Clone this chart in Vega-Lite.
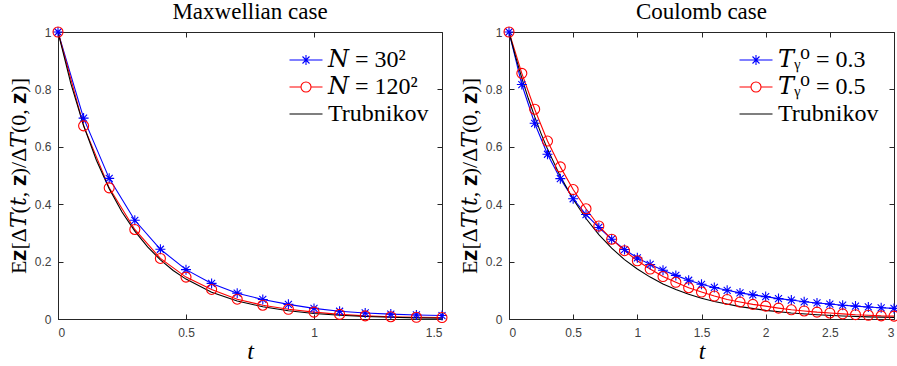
{
  "$schema": "https://vega.github.io/schema/vega-lite/v6.json",
  "padding": {"left": 6, "top": 0, "right": 0, "bottom": 0},
  "background": "white",
  "config": {
    "view": {"stroke": "#262626", "strokeWidth": 1},
    "axis": {
      "labelFont": "Liberation Sans", "labelFontSize": 12, "labelColor": "#404040",
      "domainColor": "#262626", "tickColor": "#262626", "tickSize": -5, "grid": false,
      "titleFont": "Liberation Serif, DejaVu Serif", "titleFontSize": 22, "titleColor": "#000000", "titleFontWeight": "normal"
    },
    "axisX": {"labelPadding": 13},
    "axisY": {"labelPadding": 12},
    "title": {"font": "Liberation Serif", "fontSize": 23, "fontWeight": "normal", "color": "#000000", "offset": 1},
    "legend": {"labelFont": "Liberation Serif, DejaVu Serif", "labelFontSize": 24, "labelColor": "#000000", "labelLimit": 300}
  },
  "resolve": {"scale": {"color": "independent", "shape": "independent", "strokeWidth": "independent"}, "legend": {"color": "independent"}},
  "datasets": {
    "left": [
      {"series": "N30", "t": 0, "v": 1}, {"series": "N30", "t": 0.1, "v": 0.70}, {"series": "N30", "t": 0.2, "v": 0.49}, {"series": "N30", "t": 0.3, "v": 0.344},
      {"series": "N30", "t": 0.4, "v": 0.243}, {"series": "N30", "t": 0.5, "v": 0.172}, {"series": "N30", "t": 0.6, "v": 0.124}, {"series": "N30", "t": 0.7, "v": 0.090},
      {"series": "N30", "t": 0.8, "v": 0.068}, {"series": "N30", "t": 0.9, "v": 0.051}, {"series": "N30", "t": 1.0, "v": 0.037}, {"series": "N30", "t": 1.1, "v": 0.027},
      {"series": "N30", "t": 1.2, "v": 0.021}, {"series": "N30", "t": 1.3, "v": 0.017}, {"series": "N30", "t": 1.4, "v": 0.014}, {"series": "N30", "t": 1.5, "v": 0.012},
      {"series": "N120", "t": 0, "v": 1}, {"series": "N120", "t": 0.1, "v": 0.673}, {"series": "N120", "t": 0.2, "v": 0.457}, {"series": "N120", "t": 0.3, "v": 0.312},
      {"series": "N120", "t": 0.4, "v": 0.211}, {"series": "N120", "t": 0.5, "v": 0.146}, {"series": "N120", "t": 0.6, "v": 0.103}, {"series": "N120", "t": 0.7, "v": 0.069},
      {"series": "N120", "t": 0.8, "v": 0.048}, {"series": "N120", "t": 0.9, "v": 0.034}, {"series": "N120", "t": 1.0, "v": 0.024}, {"series": "N120", "t": 1.1, "v": 0.016},
      {"series": "N120", "t": 1.2, "v": 0.011}, {"series": "N120", "t": 1.3, "v": 0.008}, {"series": "N120", "t": 1.4, "v": 0.006}, {"series": "N120", "t": 1.5, "v": 0.005},
      {"series": "Trubnikov", "t": 0, "v": 1}, {"series": "Trubnikov", "t": 0.05, "v": 0.821}, {"series": "Trubnikov", "t": 0.1, "v": 0.674}, {"series": "Trubnikov", "t": 0.15, "v": 0.553},
      {"series": "Trubnikov", "t": 0.2, "v": 0.454}, {"series": "Trubnikov", "t": 0.25, "v": 0.373}, {"series": "Trubnikov", "t": 0.3, "v": 0.306}, {"series": "Trubnikov", "t": 0.35, "v": 0.251},
      {"series": "Trubnikov", "t": 0.4, "v": 0.206}, {"series": "Trubnikov", "t": 0.45, "v": 0.169}, {"series": "Trubnikov", "t": 0.5, "v": 0.139}, {"series": "Trubnikov", "t": 0.6, "v": 0.0935},
      {"series": "Trubnikov", "t": 0.7, "v": 0.063}, {"series": "Trubnikov", "t": 0.8, "v": 0.0424}, {"series": "Trubnikov", "t": 0.9, "v": 0.0286}, {"series": "Trubnikov", "t": 1.0, "v": 0.0193},
      {"series": "Trubnikov", "t": 1.1, "v": 0.013}, {"series": "Trubnikov", "t": 1.2, "v": 0.0087}, {"series": "Trubnikov", "t": 1.3, "v": 0.0059}, {"series": "Trubnikov", "t": 1.4, "v": 0.004},
      {"series": "Trubnikov", "t": 1.5, "v": 0.0027}
    ],
    "right": [
      {"series": "T03", "t": 0, "v": 1}, {"series": "T03", "t": 0.1, "v": 0.817}, {"series": "T03", "t": 0.2, "v": 0.682}, {"series": "T03", "t": 0.3, "v": 0.574},
      {"series": "T03", "t": 0.4, "v": 0.489}, {"series": "T03", "t": 0.5, "v": 0.419}, {"series": "T03", "t": 0.6, "v": 0.364}, {"series": "T03", "t": 0.7, "v": 0.319},
      {"series": "T03", "t": 0.8, "v": 0.278}, {"series": "T03", "t": 0.9, "v": 0.242}, {"series": "T03", "t": 1.0, "v": 0.213}, {"series": "T03", "t": 1.1, "v": 0.190},
      {"series": "T03", "t": 1.2, "v": 0.170}, {"series": "T03", "t": 1.3, "v": 0.152}, {"series": "T03", "t": 1.4, "v": 0.135}, {"series": "T03", "t": 1.5, "v": 0.121},
      {"series": "T03", "t": 1.6, "v": 0.110}, {"series": "T03", "t": 1.7, "v": 0.100}, {"series": "T03", "t": 1.8, "v": 0.091}, {"series": "T03", "t": 1.9, "v": 0.084},
      {"series": "T03", "t": 2.0, "v": 0.078}, {"series": "T03", "t": 2.1, "v": 0.071}, {"series": "T03", "t": 2.2, "v": 0.066}, {"series": "T03", "t": 2.3, "v": 0.060},
      {"series": "T03", "t": 2.4, "v": 0.056}, {"series": "T03", "t": 2.5, "v": 0.052}, {"series": "T03", "t": 2.6, "v": 0.048}, {"series": "T03", "t": 2.7, "v": 0.045},
      {"series": "T03", "t": 2.8, "v": 0.042}, {"series": "T03", "t": 2.9, "v": 0.039}, {"series": "T03", "t": 3.0, "v": 0.037},
      {"series": "T05", "t": 0, "v": 1}, {"series": "T05", "t": 0.1, "v": 0.856}, {"series": "T05", "t": 0.2, "v": 0.731}, {"series": "T05", "t": 0.3, "v": 0.62},
      {"series": "T05", "t": 0.4, "v": 0.53}, {"series": "T05", "t": 0.5, "v": 0.451}, {"series": "T05", "t": 0.6, "v": 0.384}, {"series": "T05", "t": 0.7, "v": 0.324},
      {"series": "T05", "t": 0.8, "v": 0.278}, {"series": "T05", "t": 0.9, "v": 0.238}, {"series": "T05", "t": 1.0, "v": 0.203}, {"series": "T05", "t": 1.1, "v": 0.174},
      {"series": "T05", "t": 1.2, "v": 0.148}, {"series": "T05", "t": 1.3, "v": 0.128}, {"series": "T05", "t": 1.4, "v": 0.109}, {"series": "T05", "t": 1.5, "v": 0.094},
      {"series": "T05", "t": 1.6, "v": 0.080}, {"series": "T05", "t": 1.7, "v": 0.068}, {"series": "T05", "t": 1.8, "v": 0.059}, {"series": "T05", "t": 1.9, "v": 0.051},
      {"series": "T05", "t": 2.0, "v": 0.045}, {"series": "T05", "t": 2.1, "v": 0.038}, {"series": "T05", "t": 2.2, "v": 0.032}, {"series": "T05", "t": 2.3, "v": 0.028},
      {"series": "T05", "t": 2.4, "v": 0.024}, {"series": "T05", "t": 2.5, "v": 0.021}, {"series": "T05", "t": 2.6, "v": 0.018}, {"series": "T05", "t": 2.7, "v": 0.015},
      {"series": "T05", "t": 2.8, "v": 0.013}, {"series": "T05", "t": 2.9, "v": 0.011}, {"series": "T05", "t": 3.0, "v": 0.010},
      {"series": "Trubnikov", "t": 0, "v": 1}, {"series": "Trubnikov", "t": 0.05, "v": 0.916}, {"series": "Trubnikov", "t": 0.1, "v": 0.839}, {"series": "Trubnikov", "t": 0.15, "v": 0.769},
      {"series": "Trubnikov", "t": 0.2, "v": 0.705}, {"series": "Trubnikov", "t": 0.25, "v": 0.646}, {"series": "Trubnikov", "t": 0.3, "v": 0.592}, {"series": "Trubnikov", "t": 0.4, "v": 0.497},
      {"series": "Trubnikov", "t": 0.5, "v": 0.417}, {"series": "Trubnikov", "t": 0.6, "v": 0.350}, {"series": "Trubnikov", "t": 0.7, "v": 0.294}, {"series": "Trubnikov", "t": 0.8, "v": 0.247},
      {"series": "Trubnikov", "t": 0.9, "v": 0.207}, {"series": "Trubnikov", "t": 1.0, "v": 0.174}, {"series": "Trubnikov", "t": 1.1, "v": 0.146}, {"series": "Trubnikov", "t": 1.2, "v": 0.122},
      {"series": "Trubnikov", "t": 1.3, "v": 0.103}, {"series": "Trubnikov", "t": 1.4, "v": 0.086}, {"series": "Trubnikov", "t": 1.5, "v": 0.072}, {"series": "Trubnikov", "t": 1.6, "v": 0.061},
      {"series": "Trubnikov", "t": 1.8, "v": 0.043}, {"series": "Trubnikov", "t": 2.0, "v": 0.030}, {"series": "Trubnikov", "t": 2.2, "v": 0.021}, {"series": "Trubnikov", "t": 2.4, "v": 0.015},
      {"series": "Trubnikov", "t": 2.6, "v": 0.0106}, {"series": "Trubnikov", "t": 2.8, "v": 0.0074}, {"series": "Trubnikov", "t": 3.0, "v": 0.0052}
    ]
  },
  "bounds": "flush",
  "spacing": 67,
  "hconcat": [
    {
      "title": "Maxwellian case",
      "width": 384, "height": 287,
      "data": {"name": "left"},
      "resolve": {"axis": {"x": "independent", "y": "independent"}},
      "layer": [
        {
          "mark": {"type": "line", "clip": true},
          "encoding": {
            "x": {"field": "t", "type": "quantitative", "scale": {"domain": [0, 1.5], "nice": false},
                  "axis": {"orient": "bottom", "values": [0, 0.5, 1, 1.5], "format": "~g", "title": "t", "titleFontSize": 24, "titleFontStyle": "italic", "titlePadding": 1}},
            "y": {"field": "v", "type": "quantitative", "scale": {"domain": [0, 1], "nice": false},
                  "axis": {"orient": "left", "values": [0, 0.2, 0.4, 0.6, 0.8, 1], "format": "~g", "title": "E𝐳[Δ𝑇(𝑡, 𝐳)/Δ𝑇(0, 𝐳)]", "titlePadding": 4}},
            "color": {"field": "series", "type": "nominal",
                      "scale": {"domain": ["N30", "N120", "Trubnikov"], "range": ["#0000ff", "#ff0000", "#000000"]},
                      "legend": {"orient": "none", "legendX": 236, "legendY": 16, "title": null, "symbolSize": 400, "symbolStrokeWidth": 1.2,
                                 "labelOffset": 10, "rowPadding": 3, "padding": 0,
                                 "labelExpr": "datum.value == 'N30' ? '𝑁 = 30²' : datum.value == 'N120' ? '𝑁 = 120²' : 'Trubnikov'",
                                 "encode": {"symbols": {"update": {"fill": {"value": "transparent"},
                                   "shape": {"signal": "datum.index === 0 ? 'M-1.65,0H1.65M0,-0.5V0.5M-0.35,-0.35L0.35,0.35M-0.35,0.35L0.35,-0.35' : datum.index === 1 ? 'M-1.65,0H-0.5M0.5,0H1.65M-0.5,0A0.5,0.5 0 1,1 0.5,0A0.5,0.5 0 1,1 -0.5,0' : 'M-1.65,0H1.65'"}}}}}},
            "strokeWidth": {"field": "series", "type": "nominal", "scale": {"domain": ["N30", "N120", "Trubnikov"], "range": [1.1, 1.1, 1.7]}, "legend": null}
          }
        },
        {
          "transform": [{"filter": "datum.series != 'Trubnikov'"}],
          "mark": {"type": "point", "filled": false, "size": 100, "strokeWidth": 1.1, "opacity": 1},
          "encoding": {
            "x": {"field": "t", "type": "quantitative", "axis": {"orient": "top", "values": [0, 0.5, 1, 1.5], "labels": false, "title": null, "domain": false}},
            "y": {"field": "v", "type": "quantitative", "axis": {"orient": "right", "values": [0, 0.2, 0.4, 0.6, 0.8, 1], "labels": false, "title": null, "domain": false}},
            "color": {"field": "series", "type": "nominal", "scale": {"domain": ["N30", "N120", "Trubnikov"], "range": ["#0000ff", "#ff0000", "#000000"]}, "legend": null},
            "shape": {"field": "series", "type": "nominal", "scale": {"domain": ["N30", "N120"], "range": ["M-1,0H1M0,-1V1M-0.7,-0.7L0.7,0.7M-0.7,0.7L0.7,-0.7", "circle"]}, "legend": null}
          }
        }
      ]
    },
    {
      "title": "Coulomb case",
      "width": 385, "height": 287,
      "data": {"name": "right"},
      "resolve": {"axis": {"x": "independent", "y": "independent"}},
      "layer": [
        {
          "mark": {"type": "line", "clip": true},
          "encoding": {
            "x": {"field": "t", "type": "quantitative", "scale": {"domain": [0, 3], "nice": false},
                  "axis": {"orient": "bottom", "values": [0, 0.5, 1, 1.5, 2, 2.5, 3], "format": "~g", "title": "t", "titleFontSize": 24, "titleFontStyle": "italic", "titlePadding": 1}},
            "y": {"field": "v", "type": "quantitative", "scale": {"domain": [0, 1], "nice": false},
                  "axis": {"orient": "left", "values": [0, 0.2, 0.4, 0.6, 0.8, 1], "format": "~g", "title": "E𝐳[Δ𝑇(𝑡, 𝐳)/Δ𝑇(0, 𝐳)]", "titlePadding": 4}},
            "color": {"field": "series", "type": "nominal",
                      "scale": {"domain": ["T03", "T05", "Trubnikov"], "range": ["#0000ff", "#ff0000", "#000000"]},
                      "legend": {"orient": "none", "legendX": 235, "legendY": 16, "title": null, "symbolSize": 400, "symbolStrokeWidth": 1.2,
                                 "labelOffset": 10, "rowPadding": 3, "padding": 0,
                                 "labelExpr": "datum.value == 'T03' ? '𝑇ᵧ⁰ = 0.3' : datum.value == 'T05' ? '𝑇ᵧ⁰ = 0.5' : 'Trubnikov'",
                                 "encode": {"symbols": {"update": {"fill": {"value": "transparent"},
                                   "shape": {"signal": "datum.index === 0 ? 'M-1.65,0H1.65M0,-0.5V0.5M-0.35,-0.35L0.35,0.35M-0.35,0.35L0.35,-0.35' : datum.index === 1 ? 'M-1.65,0H-0.5M0.5,0H1.65M-0.5,0A0.5,0.5 0 1,1 0.5,0A0.5,0.5 0 1,1 -0.5,0' : 'M-1.65,0H1.65'"}}}}}},
            "strokeWidth": {"field": "series", "type": "nominal", "scale": {"domain": ["T03", "T05", "Trubnikov"], "range": [1.1, 1.1, 1.7]}, "legend": null}
          }
        },
        {
          "transform": [{"filter": "datum.series != 'Trubnikov'"}],
          "mark": {"type": "point", "filled": false, "size": 100, "strokeWidth": 1.1, "opacity": 1},
          "encoding": {
            "x": {"field": "t", "type": "quantitative", "axis": {"orient": "top", "values": [0, 0.5, 1, 1.5, 2, 2.5, 3], "labels": false, "title": null, "domain": false}},
            "y": {"field": "v", "type": "quantitative", "axis": {"orient": "right", "values": [0, 0.2, 0.4, 0.6, 0.8, 1], "labels": false, "title": null, "domain": false}},
            "color": {"field": "series", "type": "nominal", "scale": {"domain": ["T03", "T05", "Trubnikov"], "range": ["#0000ff", "#ff0000", "#000000"]}, "legend": null},
            "shape": {"field": "series", "type": "nominal", "scale": {"domain": ["T03", "T05"], "range": ["M-1,0H1M0,-1V1M-0.7,-0.7L0.7,0.7M-0.7,0.7L0.7,-0.7", "circle"]}, "legend": null}
          }
        }
      ]
    }
  ]
}
